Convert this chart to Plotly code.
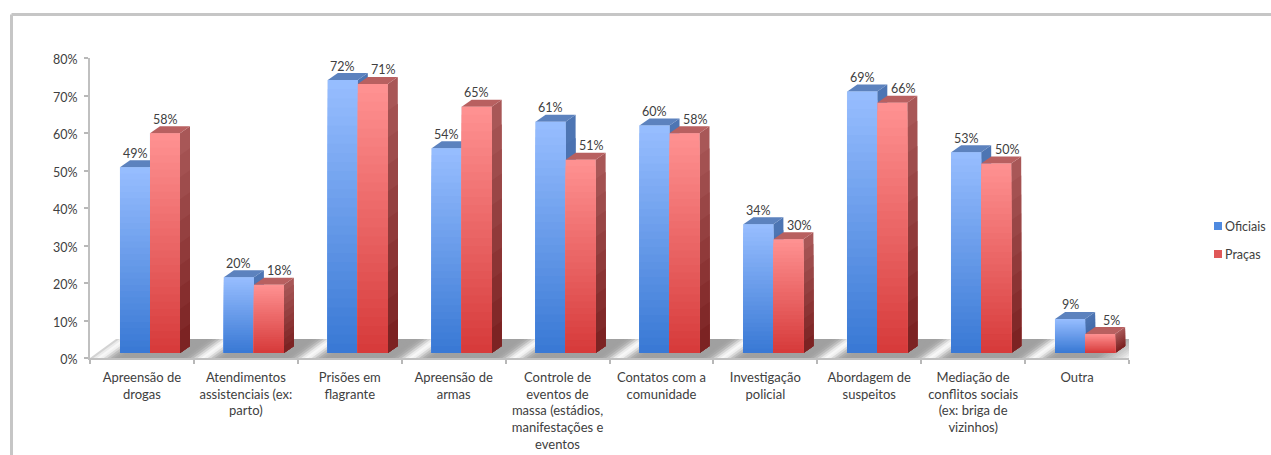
import math
import plotly.graph_objects as go

categories = [
    "Apreensão de<br>drogas",
    "Atendimentos<br>assistenciais (ex:<br>parto)",
    "Prisões em<br>flagrante",
    "Apreensão de<br>armas",
    "Controle de<br>eventos de<br>massa (estádios,<br>manifestações e<br>eventos",
    "Contatos com a<br>comunidade",
    "Investigação<br>policial",
    "Abordagem de<br>suspeitos",
    "Mediação de<br>conflitos sociais<br>(ex: briga de<br>vizinhos)",
    "Outra",
]
oficiais = [49, 20, 72, 54, 61, 60, 34, 69, 53, 9]
pracas = [58, 18, 71, 65, 51, 58, 30, 66, 50, 5]
y_ticks = [0, 10, 20, 30, 40, 50, 60, 70, 80]

PX_X, PX_Y = 103.9, 3.79
BAR_W = 30 / PX_X
DX, DY = 10 / PX_X, 7 / PX_Y
OFF_A, OFF_B = 30 / PX_X, 60 / PX_X
TEXT = "#404040"
FONT = "Lato"
SIZE = 12.5


def lerp(a, b, t):
    return "rgb(%d,%d,%d)" % tuple(round(a[k] + (b[k] - a[k]) * t) for k in range(3))


def poly(points, color):
    d = "M" + " L".join(f"{x:.4f},{y:.4f}" for x, y in points) + " Z"
    return dict(type="path", path=d, xref="x", yref="y2", fillcolor=color,
                line=dict(width=0), layer="above")


BLUE = dict(front=((152, 190, 255), (56, 120, 212)), side=((78, 118, 180), (56, 92, 158)), top=(92, 130, 190))
RED = dict(front=((255, 146, 146), (214, 58, 58)), side=((170, 90, 90), (122, 32, 32)), top=(184, 96, 96))

shapes = []

# floor: every strip runs on to the right end, so no seams show
y_bot, y_top = -5 / PX_Y, 14 / PX_Y
skew = 26 / PX_X
N_FLOOR = 300
for k in range(N_FLOOR):
    u0 = 10 * k / N_FLOOR
    px = (u0 + 5 / N_FLOOR) * PX_X
    d = ((px - 113) % PX_X)
    d = min(d, PX_X - d)
    level = 160 + 88 * math.exp(-((d / 10) ** 2))
    edge = max(0.0, (px - 1005) / 40)
    level = min(255, level + (255 - level) * min(1, edge))
    c = "rgb(%d,%d,%d)" % (level, level, level)
    shapes.append(poly([(u0, y_bot), (10, y_bot), (10 + skew, y_top), (u0 + skew, y_top)], c))

# 3D faces: each band runs down to the base, so no seams show
N_FRONT, N_SIDE = 30, 10
for i in range(len(categories)):
    for value, off, pal in ((oficiais[i], OFF_A, BLUE), (pracas[i], OFF_B, RED)):
        x0 = i + off
        x1 = x0 + BAR_W
        for k in range(N_SIDE):
            a, b = k / N_SIDE, (k + 1) / N_SIDE
            ya = value * (1 - a)
            shapes.append(poly([(x1, 0), (x1 + DX, DY), (x1 + DX, ya + DY), (x1, ya)],
                               lerp(pal["side"][0], pal["side"][1], (a + b) / 2)))
        shapes.append(poly([(x0, value), (x1, value), (x1 + DX, value + DY), (x0 + DX, value + DY)],
                           lerp(pal["top"], pal["top"], 0)))
        for k in range(N_FRONT):
            a, b = k / N_FRONT, (k + 1) / N_FRONT
            ya = value * (1 - a)
            shapes.append(poly([(x0, 0), (x1, 0), (x1, ya), (x0, ya)],
                               lerp(pal["front"][0], pal["front"][1], (a + b) / 2)))

# chart frame
PLOT_W = 1039.0
shapes.append(dict(type="line", xref="paper", yref="paper", x0=-78.5 / PLOT_W, x1=1181 / PLOT_W,
                   y0=(358 - 14.5) / 300, y1=(358 - 14.5) / 300, line=dict(color="#c6c6c6", width=3)))
shapes.append(dict(type="line", xref="paper", yref="paper", x0=-78.5 / PLOT_W, x1=-78.5 / PLOT_W,
                   y0=-97 / 300, y1=(358 - 14.5) / 300, line=dict(color="#c6c6c6", width=3)))

# legend swatches
legend_items = [("Oficiais", "#4f8ae0", 226), ("Praças", "#e05858", 254)]
annotations = []
for name, color, py in legend_items:
    shapes.append(dict(type="rect", xref="paper", yref="paper",
                       x0=(1214 - 90) / PLOT_W, x1=(1222 - 90) / PLOT_W,
                       y0=(358 - py - 4) / 300, y1=(358 - py + 4) / 300,
                       fillcolor=color, line=dict(width=0)))
    annotations.append(dict(xref="paper", yref="paper", x=(1223 - 90) / PLOT_W, y=(358 - py) / 300,
                            text=name, showarrow=False, xanchor="left", yanchor="middle",
                            font=dict(family=FONT, size=SIZE, color=TEXT)))

# value labels
for i in range(len(categories)):
    annotations.append(dict(x=i + OFF_A + BAR_W / 2, y=oficiais[i], xref="x", yref="y2",
                            text=f"{oficiais[i]}%", showarrow=False, yshift=14,
                            font=dict(family=FONT, size=SIZE, color=TEXT)))
    shift = 0 if pracas[i] > oficiais[i] else 11
    annotations.append(dict(x=i + OFF_B + BAR_W / 2, y=pracas[i], xref="x", yref="y2",
                            text=f"{pracas[i]}%", showarrow=False, yshift=14, xshift=shift,
                            font=dict(family=FONT, size=SIZE, color=TEXT)))

positions = [i + 0.5 for i in range(len(categories))]
fig = go.Figure()
fig.add_trace(go.Bar(x=[i + OFF_A + BAR_W / 2 for i in range(len(categories))], y=oficiais,
                     width=BAR_W, name="Oficiais", marker_color="#5f95e6", yaxis="y2",
                     showlegend=False))
fig.add_trace(go.Bar(x=[i + OFF_B + BAR_W / 2 for i in range(len(categories))], y=pracas,
                     width=BAR_W, name="Praças", marker_color="#e25a5a", yaxis="y2",
                     showlegend=False))
fig.add_trace(go.Scatter(x=positions[:len(y_ticks)], y=y_ticks, mode="none", yaxis="y",
                         showlegend=False, hoverinfo="skip"))

fig.update_layout(
    width=1271, height=455, barmode="overlay", showlegend=False,
    paper_bgcolor="white", plot_bgcolor="white",
    margin=dict(l=90, r=142, t=58, b=97, autoexpand=False),
    font=dict(family=FONT, size=SIZE, color=TEXT),
    xaxis=dict(range=[0, 10], tickmode="array", tickvals=positions, ticktext=categories,
               ticks="", showgrid=False, zeroline=False, showline=True, linecolor="#c0c0c0", linewidth=2,
               tickangle=0, automargin=False, ticklabelstandoff=6,
               tickfont=dict(family=FONT, size=13, color=TEXT),
               minor=dict(tickmode="array", tickvals=list(range(len(categories) + 1)), ticks="outside",
                          ticklen=4, tickcolor="#b8b8b8", tickwidth=1.5, showgrid=False)),
    yaxis=dict(range=[0, 80], tickvals=y_ticks, ticktext=[f"{v}%" for v in y_ticks],
               ticks="outside", ticklen=4, tickcolor="#b8b8b8", tickwidth=1.5, showgrid=False,
               zeroline=False, showline=True, linecolor="#c0c0c0", linewidth=2,
               ticklabelstandoff=4, ticklabelshift=2,
               automargin=False, tickfont=dict(family=FONT, size=SIZE, color=TEXT)),
    yaxis2=dict(range=[-5 / PX_Y, 295 / PX_Y], overlaying="y", visible=False),
    shapes=shapes, annotations=annotations,
)

fig.write_html("out.html", config=dict(displayModeBar=False),
               post_script="document.body.style.margin='0';document.body.style.overflow='hidden';")
